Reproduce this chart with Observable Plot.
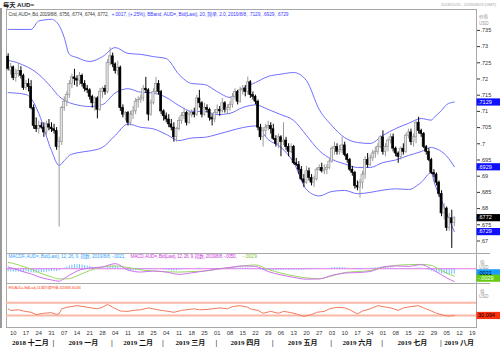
<!DOCTYPE html>
<html><head><meta charset="utf-8">
<script src="https://cdn.jsdelivr.net/npm/d3@7"></script>
<script src="https://cdn.jsdelivr.net/npm/@observablehq/plot@0.6"></script>
<style>
body{margin:0;background:#fff;}
#wrap{position:relative;width:500px;height:352px;overflow:hidden;background:#fff;}
#wrap svg{position:absolute;left:0;}
</style></head><body><div id="wrap"></div><script>
// ---------- DATA ----------
const firstDay = "2018-12-06";
const open = [.7269,.7225,.7236,.7203,.7215,.7225,.7210,.7172,.7185,.7175,.7110,.7055,.7045,.7055,.7050,.7035,.7060,.7050,.7045,.7040,.6990,.7005,.7110,.7130,.7150,.7185,.7205,.7200,.7195,.7210,.7185,.7170,.7165,.7145,.7125,.7140,.7105,.7160,.7170,.7160,.7250,.7270,.7245,.7225,.7235,.7110,.7090,.7095,.7065,.7090,.7100,.7130,.7135,.7140,.7170,.7165,.7090,.7125,.7160,.7185,.7160,.7100,.7085,.7075,.7060,.7050,.7020,.7045,.7070,.7085,.7095,.7065,.7090,.7095,.7090,.7140,.7125,.7090,.7110,.7105,.7080,.7075,.7095,.7105,.7100,.7125,.7105,.7110,.7120,.7145,.7160,.7130,.7165,.7170,.7160,.7190,.7150,.7145,.7130,.7050,.7020,.7040,.7050,.7055,.7045,.7015,.7000,.7020,.7005,.7010,.6990,.6975,.6990,.6940,.6935,.6920,.6890,.6880,.6915,.6895,.6880,.6890,.6920,.6925,.6915,.6920,.6925,.6945,.6985,.6990,.6975,.6980,.6995,.6965,.6950,.6920,.6910,.6870,.6865,.6880,.6905,.6950,.6935,.6955,.6970,.6975,.6990,.7020,.6975,.6990,.7010,.7020,.6985,.6970,.6960,.6985,.6975,.7025,.7035,.7005,.7020,.7065,.7040,.7030,.6990,.6975,.6950,.6910,.6905,.6880,.6845,.6785,.6800,.6740,.6770,.6756];
const high = [.7278,.7248,.7240,.7230,.7248,.7238,.7215,.7195,.7200,.7195,.7120,.7080,.7070,.7065,.7065,.7070,.7075,.7065,.7060,.7050,.7020,.7115,.7145,.7160,.7195,.7215,.7230,.7210,.7220,.7215,.7195,.7180,.7170,.7150,.7145,.7145,.7170,.7175,.7180,.7260,.7296,.7280,.7250,.7255,.7240,.7120,.7100,.7100,.7100,.7115,.7140,.7145,.7150,.7180,.7205,.7170,.7135,.7170,.7205,.7195,.7165,.7105,.7095,.7090,.7075,.7065,.7050,.7080,.7095,.7110,.7100,.7100,.7105,.7110,.7150,.7165,.7130,.7125,.7120,.7110,.7090,.7105,.7120,.7115,.7140,.7130,.7120,.7130,.7155,.7170,.7165,.7175,.7180,.7180,.7206,.7195,.7160,.7150,.7135,.7060,.7050,.7060,.7070,.7065,.7060,.7025,.7030,.7025,.7065,.7020,.7000,.7000,.6995,.6955,.6945,.6930,.6905,.6930,.6925,.6905,.6900,.6925,.6935,.6940,.6935,.6935,.6955,.6990,.7005,.7000,.6995,.7020,.7005,.6970,.6955,.6930,.6915,.6885,.6890,.6915,.6960,.6970,.6965,.6980,.6990,.7000,.7025,.7040,.7000,.7015,.7030,.7030,.6990,.6975,.6990,.7000,.7030,.7045,.7045,.7030,.7070,.7082,.7045,.7035,.6995,.6985,.6955,.6920,.6910,.6885,.6855,.6815,.6805,.6785,.6795,.6774];
const low = [.7225,.7212,.7195,.7190,.7205,.7200,.7165,.7165,.7160,.7105,.7045,.7035,.7030,.7045,.7020,.7025,.7040,.7035,.7030,.6980,.6743,.6995,.7100,.7115,.7140,.7170,.7180,.7175,.7180,.7175,.7160,.7155,.7135,.7110,.7100,.7077,.7100,.7140,.7150,.7155,.7240,.7235,.7215,.7210,.7100,.7080,.7070,.7055,.7055,.7075,.7090,.7110,.7125,.7130,.7155,.7070,.7085,.7120,.7150,.7150,.7090,.7070,.7065,.7050,.7040,.7005,.7005,.7040,.7060,.7075,.7055,.7060,.7080,.7080,.7085,.7110,.7080,.7085,.7095,.7070,.7055,.7065,.7090,.7085,.7095,.7095,.7090,.7100,.7110,.7135,.7120,.7125,.7150,.7145,.7150,.7140,.7135,.7120,.7040,.7010,.6990,.7020,.7040,.7030,.7010,.6990,.6985,.6960,.6995,.6980,.6960,.6970,.6935,.6930,.6905,.6885,.6865,.6875,.6885,.6870,.6865,.6885,.6915,.6910,.6905,.6905,.6920,.6940,.6965,.6965,.6965,.6970,.6960,.6940,.6915,.6900,.6860,.6855,.6832,.6860,.6890,.6925,.6930,.6945,.6955,.6965,.6985,.6965,.6960,.6975,.7000,.6975,.6960,.6940,.6950,.6965,.6970,.7015,.6995,.6990,.7000,.7030,.7020,.6985,.6965,.6945,.6905,.6895,.6870,.6835,.6775,.6765,.6730,.6730,.6677,.6744];
const close = [.7231,.7236,.7203,.7215,.7225,.7210,.7172,.7185,.7175,.7110,.7055,.7045,.7055,.7050,.7035,.7060,.7050,.7045,.7040,.6990,.7005,.7110,.7130,.7150,.7185,.7205,.7200,.7195,.7210,.7185,.7170,.7165,.7145,.7125,.7140,.7105,.7160,.7170,.7160,.7250,.7270,.7245,.7225,.7235,.7110,.7090,.7095,.7065,.7090,.7100,.7130,.7135,.7140,.7170,.7165,.7090,.7125,.7160,.7185,.7160,.7100,.7085,.7075,.7060,.7050,.7020,.7045,.7070,.7085,.7095,.7065,.7090,.7095,.7090,.7140,.7125,.7090,.7110,.7105,.7080,.7075,.7095,.7105,.7100,.7125,.7105,.7110,.7120,.7145,.7160,.7130,.7165,.7170,.7160,.7190,.7150,.7145,.7130,.7050,.7020,.7040,.7050,.7055,.7045,.7015,.7000,.7020,.7005,.7010,.6990,.6975,.6990,.6940,.6935,.6920,.6890,.6880,.6915,.6895,.6880,.6890,.6920,.6925,.6915,.6920,.6925,.6945,.6985,.6990,.6975,.6980,.6995,.6965,.6950,.6920,.6910,.6870,.6865,.6880,.6905,.6950,.6935,.6955,.6970,.6975,.6990,.7020,.6975,.6990,.7010,.7020,.6985,.6970,.6960,.6985,.6975,.7025,.7035,.7005,.7020,.7065,.7040,.7030,.6990,.6975,.6950,.6910,.6905,.6880,.6845,.6785,.6800,.6740,.6770,.6755,.6772];

// Bollinger band (20, 2.0) and MACD (12,26,9) at sample dates
const sampleDates = ["2018-12-06","2018-12-10","2018-12-17","2018-12-19","2018-12-24","2018-12-31","2019-01-03","2019-01-07","2019-01-09","2019-01-14","2019-01-21","2019-01-28","2019-02-04","2019-02-11","2019-02-18","2019-02-25","2019-03-04","2019-03-11","2019-03-18","2019-03-25","2019-04-01","2019-04-08","2019-04-15","2019-04-22","2019-04-29","2019-05-06","2019-05-13","2019-05-20","2019-05-27","2019-06-03","2019-06-10","2019-06-17","2019-06-24","2019-07-01","2019-07-08","2019-07-15","2019-07-22","2019-07-26","2019-07-29","2019-08-01","2019-08-05","2019-08-08"];
const bbUpper = [.7353,.7353,.7353,.7353,.7379,.7384,.7365,.7328,.7276,.7266,.7254,.7269,.7297,.7279,.7276,.7269,.7263,.7214,.7186,.7183,.7161,.7143,.7171,.7189,.7208,.7215,.7220,.7195,.7106,.7056,.7019,.7004,.7001,.7026,.7047,.7063,.7078,.7073,.7081,.7103,.7121,.7129];
const bbMiddle = [.7257,.7254,.7239,.7231,.7214,.7174,.7146,.7135,.7127,.7120,.7115,.7121,.7157,.7170,.7159,.7157,.7143,.7118,.7100,.7100,.7090,.7094,.7112,.7120,.7106,.7090,.7072,.7026,.6979,.6952,.6938,.6927,.6927,.6942,.6950,.6964,.6976,.6989,.6987,.6976,.6962,.6929];
const bbLower = [.7158,.7157,.7152,.7140,.7094,.6979,.6933,.6948,.6964,.6972,.6978,.6989,.7026,.7061,.7051,.7046,.7029,.7010,.7018,.7020,.7029,.7040,.7050,.7055,.7013,.6989,.6942,.6859,.6839,.6853,.6856,.6846,.6850,.6857,.6861,.6859,.6881,.6911,.6884,.6825,.6785,.6729];
const macdLine = [.0007,.0001,-.0015,-.0020,-.0032,-.0044,-.0049,-.0038,-.0026,-.0009,.0003,.0007,.0020,-.0005,-.0013,-.0009,-.0013,-.0022,-.0016,-.0009,-.0001,.0005,.0011,.0009,-.0011,-.0024,-.0034,-.0041,-.0040,-.0026,-.0017,-.0015,-.0011,.0007,.0011,.0009,.0016,-.0001,-.0007,-.0024,-.0036,-.0050];
const signalLine = [.0025,.0021,.0005,-.0001,-.0015,-.0032,-.0040,-.0040,-.0039,-.0028,-.0007,.0007,.0011,.0005,-.0004,-.0009,-.0012,-.0013,-.0011,-.0009,-.0002,.0005,.0011,.0015,-.0003,-.0017,-.0028,-.0036,-.0039,-.0028,-.0015,-.0011,-.0007,.0005,.0013,.0016,.0017,.0013,.0009,-.0007,-.0017,-.0029];
// MACD histogram, one bar per candle
const macdHist = [-.0012,-.0013,-.0014,-.0014,-.0013,-.0013,-.0014,-.0013,-.0013,-.0015,-.0017,-.0018,-.0017,-.0016,-.0015,-.0013,-.0012,-.0011,-.0010,-.0011,-.0008,-.0002,.0003,.0007,.0011,.0014,.0016,.0016,.0016,.0015,.0013,.0011,.0009,.0006,.0004,.0001,.0002,.0002,.0002,.0006,.0010,.0011,.0010,.0009,.0003,-.0002,-.0005,-.0008,-.0009,-.0009,-.0008,-.0006,-.0005,-.0003,-.0002,-.0004,-.0004,-.0002,.0000,.0000,-.0003,-.0005,-.0006,-.0007,-.0008,-.0009,-.0008,-.0006,-.0004,-.0002,-.0002,-.0001,.0000,.0000,.0002,.0002,.0000,.0000,-.0001,-.0002,-.0003,-.0002,-.0001,-.0001,.0000,.0000,.0000,.0001,.0002,.0003,.0003,.0003,.0003,.0003,.0004,.0002,.0001,.0000,-.0003,-.0006,-.0007,-.0007,-.0007,-.0007,-.0008,-.0008,-.0007,-.0007,-.0006,-.0006,-.0006,-.0006,-.0006,-.0006,-.0006,-.0006,-.0006,-.0004,-.0004,-.0004,-.0003,-.0002,-.0001,.0000,.0000,.0001,.0002,.0004,.0005,.0005,.0005,.0005,.0004,.0002,.0000,-.0002,-.0004,-.0005,-.0005,-.0003,.0000,.0001,.0002,.0003,.0004,.0005,.0006,.0004,.0004,.0004,.0004,.0003,.0001,-.0001,-.0001,-.0001,.0001,.0002,.0001,.0001,.0003,.0003,.0002,-.0001,-.0004,-.0007,-.0010,-.0012,-.0014,-.0017,-.0021,-.0021,-.0023,-.0022,-.0022,-.0021];
// RSI (14, Wilder) read at sample dates
const rsiDates = ["2018-12-06","2018-12-07","2018-12-12","2018-12-14","2018-12-19","2018-12-21","2018-12-26","2018-12-31","2019-01-02","2019-01-03","2019-01-04","2019-01-08","2019-01-14","2019-01-18","2019-01-24","2019-01-28","2019-01-30","2019-02-01","2019-02-06","2019-02-11","2019-02-13","2019-02-18","2019-02-21","2019-02-25","2019-02-28","2019-03-04","2019-03-07","2019-03-12","2019-03-14","2019-03-19","2019-03-21","2019-03-26","2019-03-28","2019-04-02","2019-04-05","2019-04-09","2019-04-12","2019-04-17","2019-04-18","2019-04-23","2019-04-25","2019-04-30","2019-05-03","2019-05-07","2019-05-10","2019-05-14","2019-05-17","2019-05-22","2019-05-24","2019-05-29","2019-05-31","2019-06-05","2019-06-10","2019-06-12","2019-06-17","2019-06-19","2019-06-24","2019-06-27","2019-07-01","2019-07-04","2019-07-09","2019-07-11","2019-07-16","2019-07-19","2019-07-23","2019-07-26","2019-07-30","2019-08-02","2019-08-06","2019-08-08"];
const rsiValues = [51,46,48,44,40,33,37,39,33,36,51,56,61,56,51,56,65,56,44,43,46,48,54,51,46,44,40,46,48,51,48,49,51,54,51,58,61,56,51,46,37,43,37,43,39,35,27,33,40,43,51,56,54,48,35,44,51,61,58,54,46,54,58,61,54,44,37,30,28,30.094];
const rsiLevels = [70, 30];
const priceTicks = [.67,.675,.68,.685,.69,.695,.70,.705,.71,.715,.72,.725,.73,.735];
const priceBoxes = [{v:.7129,label:".7129",fill:"#1010ff",color:"#fff"},{v:.6929,label:".6929",fill:"#1010ff",color:"#fff"},{v:.6772,label:".6772",fill:"#000",color:"#fff"},{v:.6729,label:".6729",fill:"#1010ff",color:"#fff"}];
const macdBoxes = [{v:-.0016,label:".0021",fill:"#1a9cff",color:"#000"},{v:-.0037,label:"-.0029",fill:"#66cc11",color:"#fff"}];
const rsiBoxes = [{v:30.094,label:"30.094",fill:"#ff3010",color:"#000"}];
const monthStarts = ["2018-12-01","2019-01-01","2019-02-01","2019-03-01","2019-04-01","2019-05-01","2019-06-01","2019-07-01","2019-08-01","2019-09-01"];
const monthNames = ["2018 十二月","2019 一月","2019 二月","2019 三月","2019 四月","2019 五月","2019 六月","2019 七月","2019 八月"];
const firstMonday = "2018-12-10", lastMonday = "2019-08-19";

// ---------- helpers ----------
const base = Date.parse(firstMonday + "T00:00:00Z");
function tIndex(s){ const d = Math.round((Date.parse(s+"T00:00:00Z")-base)/864e5); const w = Math.floor(d/7); return 5*w + Math.min(d-7*w,5); }
const xDomain = [-2.65, 181.7];
const W = 500, ML = 6, MR = 24;
const FONT = "'Liberation Sans', Arial, 'Noto Sans CJK SC', sans-serif";

const candles = [];
{ let t = Date.parse(firstDay+"T00:00:00Z");
  for (let n=0;n<close.length;n++){
    while ([0,6].includes(new Date(t).getUTCDay())) t += 864e5;
    const s = new Date(t).toISOString().slice(0,10);
    candles.push({i:tIndex(s), o:open[n], h:high[n], l:low[n], c:close[n], hist:macdHist[n]});
    t += 864e5;
  }
}
const samples = sampleDates.map((s,k)=>({i:tIndex(s), up:bbUpper[k], mid:bbMiddle[k], lo:bbLower[k], macd:macdLine[k], sig:signalLine[k]}));
const rsi = rsiDates.map((s,k)=>({i:tIndex(s), v:rsiValues[k]}));
const weeks = []; for (let t=base; t<=Date.parse(lastMonday+"T00:00:00Z"); t+=7*864e5){ const s=new Date(t).toISOString().slice(0,10); weeks.push({i:tIndex(s), label:s.slice(8,10)}); }
const months = monthNames.map((name,k)=>{ const a=Math.max(tIndex(monthStarts[k]),xDomain[0]), b=Math.min(tIndex(monthStarts[k+1]),xDomain[1]); return {name, mid:(a+b)/2, sep:tIndex(monthStarts[k])-0.3, first:k===0}; });
const boxSym = {draw(ctx){ ctx.rect(-12,-3.6,24,7.2); }};
const up = d => d.c >= d.o;
const fmtP = d => d3.format(".3~f")(d).replace(/^0/,"");

const wrap = document.getElementById("wrap");
function put(svg, top){ svg.style.top = top+"px"; wrap.appendChild(svg); }
const common = {width:W, marginLeft:ML, marginRight:MR, x:{domain:xDomain, axis:null}, style:{fontFamily:FONT, fontSize:"5.5px", color:"#333", background:"transparent", overflow:"visible"}};

// ---------- main price panel ----------
put(Plot.plot({...common, height:253, marginTop:9, marginBottom:0,
  y:{domain:[.66614,.74145], axis:"right", ticks:priceTicks, tickFormat:fmtP, tickSize:3, tickPadding:1, label:null},
  marks:[
    Plot.frame({stroke:"#a8a8a8"}),
    Plot.line(samples,{x:"i",y:"up",stroke:"#6f6fff",strokeWidth:1,curve:"monotone-x"}),
    Plot.line(samples,{x:"i",y:"mid",stroke:"#6f6fff",strokeWidth:1,curve:"monotone-x"}),
    Plot.line(samples,{x:"i",y:"lo",stroke:"#6f6fff",strokeWidth:1,curve:"monotone-x"}),
    Plot.ruleX(candles,{x:"i",y1:"l",y2:"h",stroke:d=>up(d)?"#9a9a9a":"#000",strokeWidth:1}),
    Plot.rect(candles,{x1:d=>d.i-0.42,x2:d=>d.i+0.42,y1:"o",y2:d=>Math.abs(d.c-d.o)<0.00015?d.o+0.00015:d.c,fill:d=>up(d)?"#e4e4e4":"#000",stroke:d=>up(d)?"#8c8c8c":"#000",strokeWidth:0.6}),
    Plot.dot(priceBoxes,{y:"v",frameAnchor:"right",dx:12,symbol:boxSym,fill:"fill",stroke:null,r:4}),
    Plot.text(priceBoxes,{y:"v",frameAnchor:"right",dx:1.5,textAnchor:"start",text:"label",fill:"color",fontSize:5.5})
  ]}), 0);

// ---------- MACD panel ----------
put(Plot.plot({...common, height:30, marginTop:0, marginBottom:0,
  y:{domain:[-.00579,.00598], axis:null},
  marks:[
    Plot.frame({stroke:"#a8a8a8"}),
    Plot.ruleX(candles,{x:"i",y1:0,y2:"hist",stroke:"#6cc0ff",strokeWidth:1}),
    Plot.ruleY([0],{stroke:"#dd77ee",strokeWidth:1}),
    Plot.line(samples,{x:"i",y:"sig",stroke:"#99d660",strokeWidth:1,curve:"monotone-x"}),
    Plot.line(samples,{x:"i",y:"macd",stroke:"#d070f0",strokeWidth:1,curve:"monotone-x"}),
    Plot.dot(macdBoxes,{y:"v",frameAnchor:"right",dx:12,symbol:boxSym,fill:"fill",stroke:null,r:4}),
    Plot.text(macdBoxes,{y:"v",frameAnchor:"right",dx:1.5,textAnchor:"start",text:"label",fill:"color",fontSize:5.5})
  ]}), 253);

// ---------- RSI panel + date axis ----------
put(Plot.plot({...common, height:69, marginTop:0, marginBottom:25,
  y:{domain:[-7.8,130.8], axis:null},
  marks:[
    Plot.frame({stroke:"#a8a8a8"}),
    Plot.ruleY(rsiLevels,{stroke:"#f9b8a6",strokeWidth:2}),
    Plot.line(rsi,{x:"i",y:"v",stroke:"#f27a5c",strokeWidth:1}),
    Plot.dot(rsiBoxes,{y:"v",frameAnchor:"right",dx:12,symbol:boxSym,fill:"fill",stroke:null,r:4}),
    Plot.text(rsiBoxes,{y:"v",frameAnchor:"right",dx:1.5,textAnchor:"start",text:"label",fill:"color",fontSize:5.5}),
    Plot.text(weeks,{x:"i",text:"label",frameAnchor:"bottom",dy:7,fontSize:5.8,fill:"#333"}),
    Plot.text(months,{x:"mid",text:"name",frameAnchor:"bottom",dy:17,fontSize:7,fontWeight:"bold",fill:"#111",fontFamily:"'Liberation Serif','Noto Sans CJK SC',serif"}),
    Plot.text(months.filter(m=>!m.first),{x:"sep",text:()=>"|",frameAnchor:"bottom",dy:17,fontSize:7,fill:"#333"})
  ]}), 283);

// ---------- titles, legends and decorations ----------
const ov = d3.create("svg").attr("width",W).attr("height",352).style("top","0px").style("pointer-events","none").style("font-family",FONT);
wrap.appendChild(ov.node());
ov.append("rect").attr("x",0).attr("y",8).attr("width",2).attr("height",320).attr("fill","#9a9a9a");
[253.5, 283.5].forEach(y=>ov.append("line").attr("x1",476).attr("x2",490).attr("y1",y).attr("y2",y).attr("stroke","#a8a8a8"));
// text whose letter spacing is fitted so that its width equals len (glyph size kept)
function txt(x,y,s,o={}){ const size=o.size||4.8; const t=ov.append("text").attr("x",x).attr("y",y).attr("font-size",size).attr("fill",o.fill||"#444").text(s);
  if(o.bold) t.attr("font-weight","bold"); if(o.anchor) t.attr("text-anchor",o.anchor);
  if(o.len){ let n=t.node().getComputedTextLength();
    if(n>0){ let ls=(o.len-n)/s.length; if(ls<-0.6){ const f=size*o.len/(n-0.6*s.length); t.attr("font-size",f.toFixed(2)); n=t.node().getComputedTextLength(); ls=(o.len-n)/s.length; }
      t.attr("letter-spacing",ls.toFixed(3)); } }
  return t; }
txt(3,6.5,"每天 AUD=",{size:6.2,bold:true,fill:"#222"});
txt(441,6.3,"2018/11/26 - 2019/08/23 (GMT)",{size:4.3,fill:"#aaa",len:55});
txt(8.5,16,"Cnd, AUD=, Bd, 2019/8/8, .6756, .6774, .6744, .6772,",{fill:"#444",len:100});
txt(111.5,16,"+.0017, (+.25%), BBand, AUD=, Bid(Last), 20, 简单, 2.0, 2019/8/8, .7129, .6929, .6729",{fill:"#3b3bff",len:177});
txt(8.5,258,"MACDF, AUD=, Bid(Last), 12, 26, 9, 指数, 2019/8/8, -.0021,",{fill:"#3aa6ff",len:117});
txt(130.5,258,"MACD, AUD=, Bid(Last), 12, 26, 9, 指数, 2019/8/8, -.0050,",{fill:"#cc44dd",len:106});
txt(242.5,258,"-.0029",{fill:"#77c030",len:14.5});
txt(8.5,288.5,"RSI, AUD=, Bid(Last), 14, 威尔德平滑, 2019/8/8, 30.094",{fill:"#ff5a3a",len:72});
txt(479,18,"价格",{size:4.5,fill:"#999"}); txt(479,24.5,"USD",{size:4.5,fill:"#999"});
txt(480,264,"值",{size:4.5,fill:"#999"}); txt(479,269,"USD",{size:4.5,fill:"#999"});
txt(480,293,"值",{size:4.5,fill:"#999"}); txt(479,298,"USD",{size:4.5,fill:"#999"});
</script></body></html>
